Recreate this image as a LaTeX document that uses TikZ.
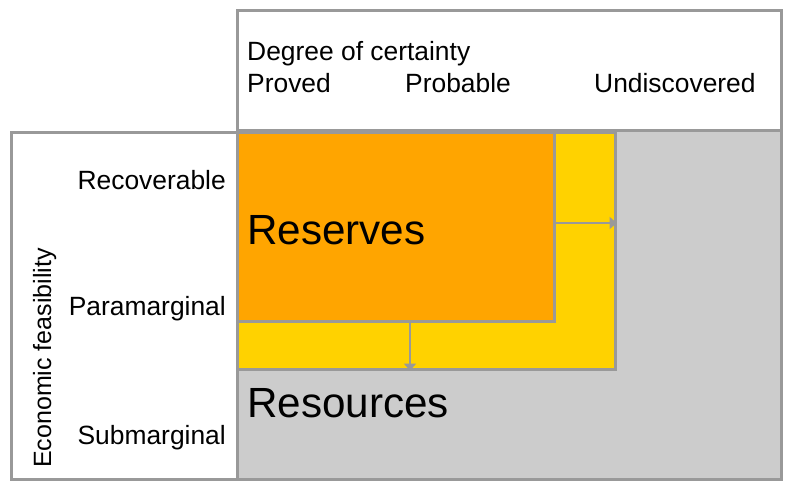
\documentclass[tikz,border=0pt]{standalone}
\usepackage{fontspec}
\setmainfont{Liberation Sans}
\usetikzlibrary{arrows.meta}
\definecolor{frame}{HTML}{999999}
\definecolor{resgray}{HTML}{CCCCCC}
\definecolor{resorange}{HTML}{FFA500}
\definecolor{resyellow}{HTML}{FFD200}
\tikzset{
  panel/.style={draw=frame, line width=2.6pt, rectangle, inner sep=0pt, anchor=north west},
  small/.style={font=\fontsize{26.4}{30}\selectfont, inner sep=0pt},
  axis/.style={font=\fontsize{25}{30}\selectfont, inner sep=0pt},
  big/.style={font=\fontsize{42.2}{46}\selectfont, inner sep=0pt},
  growarrow/.style={draw=frame, line width=2.6pt, -{Triangle[length=7pt,width=12pt]}},
}
\begin{document}
\begin{tikzpicture}[x=1pt,y=-1pt]
  \useasboundingbox (0,0) rectangle (786,483);
  % resource field and header
  \node[panel, fill=resgray, minimum width=544pt, minimum height=349pt] (field) at (236,129) {};
  \node[panel, fill=white, minimum width=544pt, minimum height=120pt] (head) at (236,9) {};
  \node[panel, fill=white, minimum width=226pt, minimum height=347pt] (side) at (10,131) {};
  % probable and proved blocks
  \node[panel, fill=resyellow, minimum width=378pt, minimum height=237pt] (prob) at (236,131) {};
  \node[panel, fill=resorange, minimum width=317pt, minimum height=189pt] (prov) at (236,131) {};
  % growth arrows
  \coordinate (ra) at (553,223);
  \coordinate (da) at (410,320);
  \draw[growarrow] (ra) -- (ra -| prob.east);
  \draw[growarrow] (da) -- (da |- prob.south);
  % header texts
  \node[small, anchor=base west] (deg) at (247,60) {Degree of certainty};
  \node[small, anchor=base west] (pv) at (247,92) {Proved};
  \node[small, anchor=base west] (pb) at (405,92) {Probable};
  \node[small, anchor=base west] (un) at (594,92) {Undiscovered};
  % side texts
  \node[small, anchor=base east] (rec) at (226,189) {Recoverable};
  \node[small, anchor=base east] (par) at (226,315) {Paramarginal};
  \node[small, anchor=base east] (sub) at (226,444) {Submarginal};
  \node[axis, rotate=90, anchor=base west] (eco) at (51,468) {Economic feasibility};
  % block labels
  \node[big, anchor=base west] (rsv) at (247,244) {Reserves};
  \node[big, anchor=base west] (rsc) at (247,417) {Resources};
\end{tikzpicture}
\end{document}
